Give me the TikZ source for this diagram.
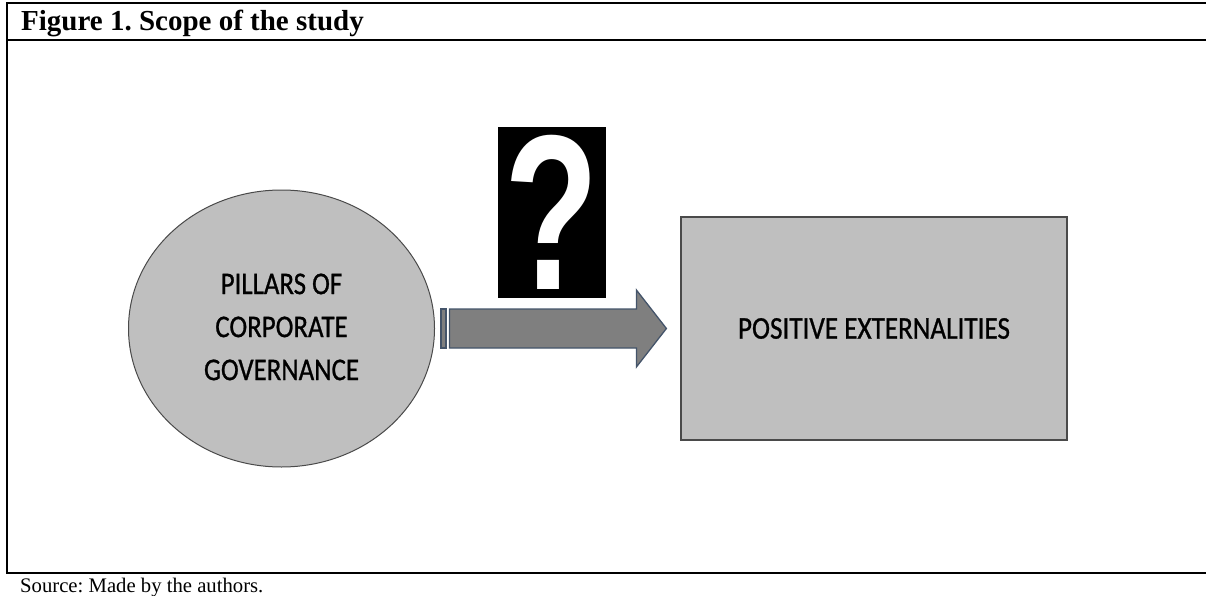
\documentclass[tikz,border=0pt]{standalone}
\usepackage{fontspec}
\setmainfont{Liberation Serif}
\newfontfamily\calibrilike[FakeBold=0.9]{Carlito}
\newfontfamily\qmarkfont{Liberation Sans}
\usetikzlibrary{shapes.geometric}
\frenchspacing
\definecolor{shapegray}{HTML}{BFBFBF}
\definecolor{arrowgray}{HTML}{7F7F7F}
\definecolor{arrowedge}{HTML}{44546A}
\definecolor{shapeedge}{HTML}{4A4A4A}
\tikzset{
  rule/.style={line width=2pt, black},
  boxlabel/.style={font=\calibrilike\fontsize{31.6}{43}\selectfont, text=black, align=center},
  pillar/.style={ellipse, draw=shapeedge, line width=1pt, fill=shapegray, inner sep=0pt,
                 minimum width=306pt, minimum height=277pt, boxlabel},
  outcome/.style={rectangle, draw=shapeedge, line width=1.2pt, fill=shapegray, inner sep=0pt,
                  minimum width=386pt, minimum height=223pt, boxlabel},
  blockarrow/.style={draw=arrowedge, line width=1.3pt, fill=arrowgray, line join=miter},
  qbox/.style={rectangle, fill=black, inner sep=0pt, minimum width=108pt, minimum height=171pt,
               text=white, font=\qmarkfont\bfseries\fontsize{221}{221}\selectfont}
}
\begin{document}
\begin{tikzpicture}[x=1pt, y=-1pt]
  \useasboundingbox (0,0) rectangle (1206,596);

  % table frame
  \coordinate (ftl) at (7,3.5);
  \coordinate (ftr) at (1206,3.5);
  \coordinate (fml) at (7,40);
  \coordinate (fmr) at (1206,40);
  \coordinate (fbl) at (7,573);
  \coordinate (fbr) at (1206,573);
  \draw[rule] (ftl) -- (ftr);
  \draw[rule] (fml) -- (fmr);
  \draw[rule] (fbl) -- (fbr);
  \draw[rule, line cap=rect] (ftl) -- (fbl);

  % caption and source line
  \node[anchor=base west, inner sep=0pt, font=\bfseries\fontsize{29}{34}\selectfont] (title)
    at (21,31) {Figure 1. Scope of the study};
  \node[anchor=base west, inner sep=0pt, font=\fontsize{20.7}{24}\selectfont] (source)
    at (20,592) {Source: Made by the authors.};

  % the two concepts
  \node[pillar] (pillars) at (281.5,328.5)
    {\raisebox{-2.9pt}{\scalebox{0.85}[1]{\begin{tabular}{@{}c@{}}PILLARS OF\\CORPORATE\\GOVERNANCE\end{tabular}}}};
  \node[outcome] (externalities) at (874,328.5)
    {\scalebox{0.86}[1]{POSITIVE EXTERNALITIES}};

  % striped block arrow between them
  \coordinate (tail) at ([xshift=6pt]pillars.east);
  \coordinate (tip) at ([xshift=-14pt]externalities.west);
  \draw[blockarrow] ([yshift=-19.5pt]tail) rectangle ([xshift=5pt, yshift=19.5pt]tail);
  \draw[blockarrow]
    ([xshift=8.5pt, yshift=-19.5pt]tail) -- ([xshift=-30pt, yshift=-19.5pt]tip)
    -- ([xshift=-30pt, yshift=-38.5pt]tip) -- (tip)
    -- ([xshift=-30pt, yshift=38.5pt]tip) -- ([xshift=-30pt, yshift=19.5pt]tip)
    -- ([xshift=8.5pt, yshift=19.5pt]tail) -- cycle;

  % question mark above the arrow
  \node[qbox] (question) at (552,212.5) {\scalebox{0.7}[1]{?}};
\end{tikzpicture}
\end{document}
